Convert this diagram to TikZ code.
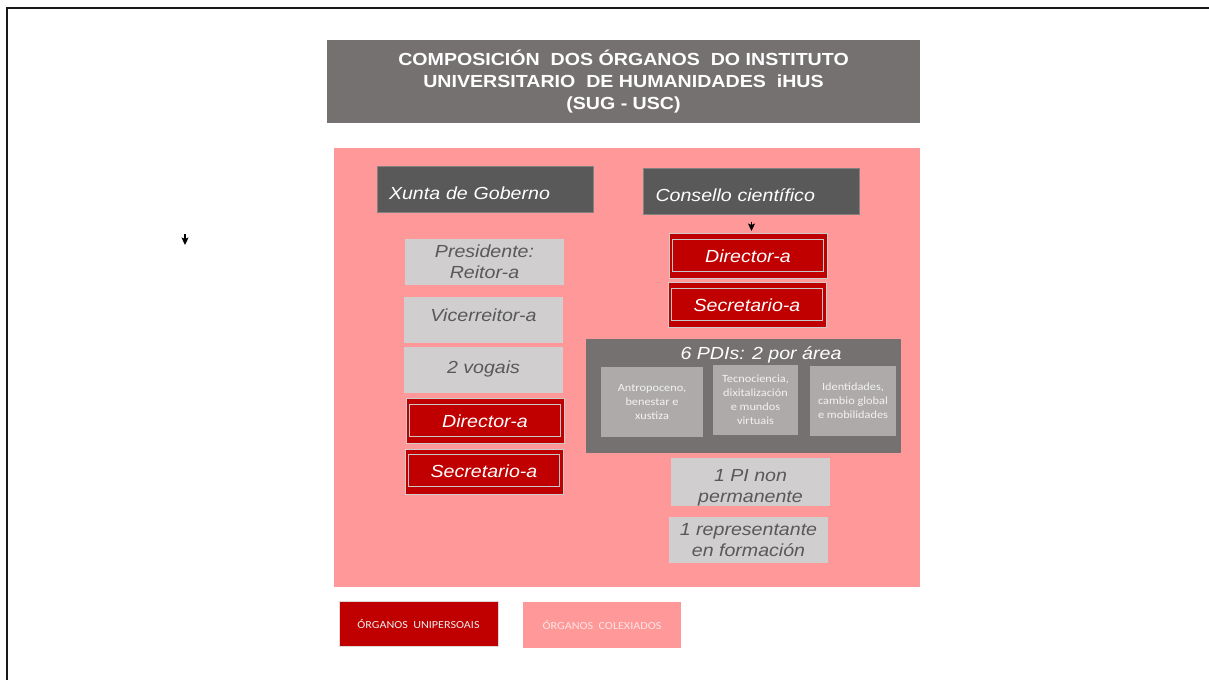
\documentclass[tikz,border=0pt]{standalone}
\usepackage{fontspec}
\setmainfont{Liberation Sans}[FakeStretch=1.12]
\newfontfamily\smallfont{Carlito}[FakeStretch=1.12]
\usepackage{tikz}
\usetikzlibrary{arrows.meta}

\definecolor{titlegray}{HTML}{767171}
\definecolor{headgray}{HTML}{595959}
\definecolor{boxpink}{HTML}{FF9999}
\definecolor{cellgray}{HTML}{D0CECE}
\definecolor{areagray}{HTML}{AEAAAA}
\definecolor{unired}{HTML}{C00000}
\definecolor{legendpink}{HTML}{FFE4E4}

\newcommand{\boxfont}{\fontsize{17.5pt}{21pt}\selectfont\itshape}

\begin{document}
\begin{tikzpicture}[x = 1pt, y = -1pt, >= {Stealth[length = 7.5pt, width = 7pt, inset = 1.5pt]}, line width = 1pt]
  \tikzstyle{every node} = [inner sep = 0pt]
  \tikzstyle{title}  = [fill = titlegray, minimum width = 593pt, minimum height = 83pt,
                        text = white, align = center,
                        font = \fontsize{17.5pt}{22pt}\selectfont\bfseries]
  \tikzstyle{head}   = [fill = headgray, draw = headgray!75!white, minimum width = 216pt,
                        minimum height = 46pt, inner xsep = 12pt, text width = 192pt,
                        align = left, text = white, font = \boxfont,
                        text height = 21.6pt, text depth = 0pt]
  \tikzstyle{member} = [fill = cellgray, minimum width = 159pt, minimum height = 46pt,
                        text = headgray, align = center, font = \boxfont]
  \tikzstyle{single} = [fill = unired, draw = black!20, minimum width = 158pt,
                        minimum height = 45pt, text = white, font = \boxfont,
                        text height = 12.6pt, text depth = 0pt]
  \tikzstyle{innerframe} = [draw = black!22, line width = 1pt]
  \tikzstyle{area}   = [fill = areagray, minimum height = 70pt, text = white!95!black,
                        align = center, font = \smallfont\fontsize{11pt}{14pt}\selectfont]
  \tikzstyle{legend} = [minimum height = 45pt, font = \smallfont\fontsize{10.8pt}{14pt}\selectfont]
  \tikzstyle{arr}    = [->, line width = 1.2pt]
  \tikzstyle{frame}  = [draw = black!90, line width = 2pt]

  \useasboundingbox (0,0) rectangle (1209,680);

  % title
  \node[title] (title) at (623.5,81.5)
    {COMPOSICIÓN\ \ DOS ÓRGANOS\ \ DO INSTITUTO\\UNIVERSITARIO\ \ DE HUMANIDADES\ \ iHUS\\(SUG - USC)};

  % pink area with both bodies
  \node[fill = boxpink, minimum width = 586pt, minimum height = 439pt] (organs) at (627,367.5) {};

  \node[head] (xunta)    at (485,189)   {Xunta de Goberno};
  \node[head] (consello) at (751.5,191) {Consello científico};

  % Xunta de Goberno
  \node[member] (presidente) at (484.5,262) {Presidente:\\Reitor-a};
  \node[member, text height = 2.6pt, text depth = 0pt] (vicerreitor) at (483.5,320) {Vicerreitor-a};
  \node[member, text height = 7.6pt, text depth = 0pt] (vogais)      at (483.5,370) {2 vogais};
  \node[single] (directorL)   at (485,421)   {Director-a};
  \node[single] (secretarioL) at (484,471.5) {Secretario-a};

  % Consello cientifico
  \node[single] (directorR)   at (748,256) {Director-a};
  \node[single] (secretarioR) at (747,305) {Secretario-a};
  \node[fill = titlegray, minimum width = 315pt, minimum height = 114pt, text = white,
        font = \boxfont, text height = 0pt, text depth = 72.4pt] (pdis) at (743.5,396)
    {\hspace*{35pt}6 PDIs: 2 por área};
  \node[area, minimum width = 102pt] (antropoceno)  at (652,402)   {Antropoceno,\\benestar e\\xustiza};
  \node[area, minimum width = 85pt]  (tecnociencia) at (755.5,400) {Tecnociencia,\\dixitalización\\e mundos\\virtuais};
  \node[area, minimum width = 86pt]  (identidades)  at (853,401)   {Identidades,\\cambio global\\e mobilidades};
  \node[member] (pi)             at (750.5,482) {\rule{0pt}{23.5pt}1 PI non\\permanente};
  \node[member] (representante)  at (748.5,540) {1 representante\\en formación};

  \foreach \n in {directorL, secretarioL, directorR, secretarioR}
    \draw[innerframe] ([shift = {(4,6)}]\n.north west) rectangle ([shift = {(-4,-8)}]\n.south east);

  \draw[arr, shorten <= 7pt, shorten >= 2pt] (consello.south) -- (consello.south |- directorR.north);

  % legend
  \node[legend, fill = unired, draw = black!15, minimum width = 159pt, text = white!93!black]
    (unipersoais) at (418.5,624) {ÓRGANOS\ \ UNIPERSOAIS};
  \node[legend, fill = boxpink, minimum width = 158pt, minimum height = 46pt, text = legendpink]
    (colexiados)  at (602,625)   {ÓRGANOS\ \ COLEXIADOS};

  % loose arrow and page frame
  \coordinate (loose)    at (185,234);
  \coordinate (looseEnd) at (185,245);
  \draw[arr] (loose) -- (looseEnd);
  \draw[frame] (1209,8) -- (7,8) -- (7,680);
\end{tikzpicture}
\end{document}
